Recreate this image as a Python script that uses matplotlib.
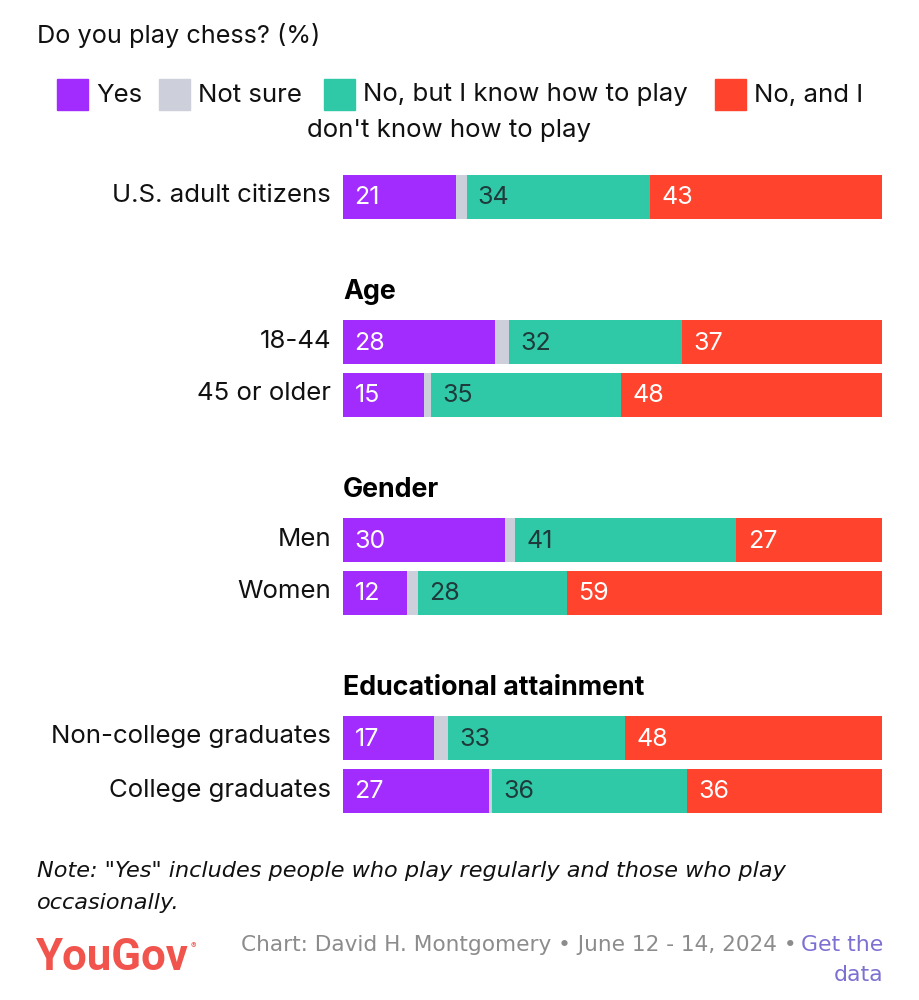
import numpy as np
import matplotlib.pyplot as plt
from matplotlib.patches import Rectangle

# data
groups = ['', 'Age', 'Gender', 'Educational attainment']
rows = ['U.S. adult citizens', '18-44', '45 or older', 'Men', 'Women',
        'Non-college graduates', 'College graduates']
row_group = [0, 1, 1, 2, 2, 3, 3]
yes = [21, 28, 15, 30, 12, 17, 27]
not_sure = [1.9, 2.6, 1.3, 1.9, 2.0, 2.6, 0.6]
no_know = [34, 32, 35, 41, 28, 33, 36]
no_dont = [43, 37, 48, 27, 59, 48, 36]

colors = ['#A22BFE', '#CDD0DB', '#30C9A8', '#FF432C']
label_colors = ['white', None, '#1E3A3A', 'white']

W, H = 920, 1000
fig = plt.figure(figsize=(W / 100, H / 100), dpi=100)
fig.patch.set_facecolor('white')

plt.rcParams['font.family'] = ['Inter', 'DejaVu Sans']

def fx(px):
    return px / W

def fy(py):
    return 1 - py / H

# bar area: x in percent, y in pixel coords
x0, x1 = 343, 882
ax = fig.add_axes([fx(x0), 0, fx(x1 - x0), 1])
ax.set_xlim(0, 100)
ax.set_ylim(H, 0)
ax.axis('off')

# layout: row centres
row_y = []
y = 197
prev_g = row_group[0]
for i, g in enumerate(row_group):
    if i > 0:
        y += 53 if g == prev_g else 145
    row_y.append(y)
    prev_g = g
bar_h = 44

data = np.array([yes, not_sure, no_know, no_dont], dtype=float)
totals = data.sum(axis=0)
shown = [yes, None, no_know, no_dont]

for r in range(len(rows)):
    left = 0.0
    for s in range(4):
        w = data[s, r] / totals[r] * 100
        ax.barh(row_y[r], w, left=left, height=bar_h, color=colors[s], linewidth=0)
        if shown[s] is not None:
            ax.text(left + 2.1, row_y[r] + 1, str(shown[s][r]), color=label_colors[s],
                    fontsize=18, va='center', ha='left')
        left += w
    fig.text(fx(331), fy(row_y[r] - 1), rows[r], ha='right', va='center',
             fontsize=18.6, color='#111111')

# group headers
for g in range(1, len(groups)):
    first = row_group.index(g)
    fig.text(fx(343), fy(row_y[first] - 50), groups[g], ha='left', va='center',
             fontsize=19.3, fontweight='bold', color='black')

# title
fig.text(fx(37), fy(35), 'Do you play chess? (%)', ha='left', va='center',
         fontsize=18.2, color='#111111')

# legend
leg_x = [57, 159, 324, 715]
leg_text = ['Yes', 'Not sure', 'No, but I know how to play', 'No, and I']
for i in range(4):
    fig.patches.append(Rectangle((fx(leg_x[i]), fy(110)), fx(31), 31 / H,
                                 transform=fig.transFigure, color=colors[i]))
    fig.text(fx(leg_x[i] + 39), fy(95), leg_text[i], ha='left', va='center',
             fontsize=18.6, color='#111111')
fig.text(fx(449), fy(130), "don't know how to play", ha='center', va='center',
         fontsize=18.6, color='#111111')

# note
note_font = 'DejaVu Sans'
fig.text(fx(37), fy(871), 'Note: "Yes" includes people who play regularly and those who play',
         ha='left', va='center', fontsize=16.1, style='italic', family=note_font, color='#111111')
fig.text(fx(37), fy(903), 'occasionally.', ha='left', va='center', fontsize=16.1,
         style='italic', family=note_font, color='#111111')

# footer
fig.text(fx(36), fy(958), 'YouGov', ha='left', va='center', fontsize=31.5,
         fontweight='bold', family='Roboto', color='#F0544C')
fig.text(fx(191), fy(946), '®', ha='left', va='center', fontsize=6, color='#F0544C')
gt = fig.text(fx(883), fy(945), 'Get the', ha='right', va='center', fontsize=15.8,
              family=note_font, color='#7C70D2')
fig.text(fx(883), fy(975), 'data', ha='right', va='center', fontsize=15.8,
         family=note_font, color='#7C70D2')
renderer = fig.canvas.get_renderer()
bb = gt.get_window_extent(renderer)
fig.text(bb.x0 / W - 0.004, fy(945), 'Chart: David H. Montgomery • June 12 - 14, 2024 •',
         ha='right', va='center', fontsize=15.6, family=note_font, color='#8C8C8C')

fig.savefig('out.png', dpi=100)
